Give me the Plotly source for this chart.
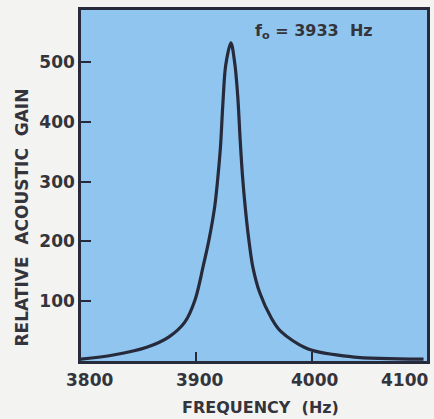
import plotly.graph_objects as go

# values
freq = [3800, 3828, 3857, 3876, 3890, 3899, 3906, 3911, 3916, 3919, 3921, 3923, 3925.5,
        3930, 3933.5, 3936, 3938, 3940, 3942.5, 3945.5, 3949, 3955, 3965, 3973, 3997, 4035, 4097]
gain = [3, 10, 23, 40, 65, 103, 159, 203, 259, 314, 360, 430, 495,
        532, 495, 440, 370, 310, 255, 203, 157, 114, 72, 50, 20, 7, 3]

y_ticks = [100, 200, 300, 400, 500]
y_ticktext = ['100', '200', '300', '400', '500']
x_ticks = [3900, 4000]
x_labels = ['3800', '3900', '4000', '4100']
x_label_px = [90, 201, 317, 433]
x_label_anchor = ['center', 'center', 'center', 'right']

ink = '#262a3a'
txt = '#34343c'
fnt = 'DejaVu Sans'

W, H = 434, 419
L, T, R, B = 81, 10, W - 430, H - 361

fig = go.Figure(go.Scatter(
    x=freq, y=gain, mode='lines',
    line=dict(color=ink, width=3.2, shape='spline', smoothing=0.9),
    hoverinfo='skip'
))

fig.update_layout(
    width=W, height=H,
    margin=dict(l=L, r=R, t=T, b=B),
    paper_bgcolor='#f3f3f1',
    plot_bgcolor='#90c5f0',
    showlegend=False,
    font=dict(family=fnt, color=txt),
)

fig.update_xaxes(
    range=[3800, 4100], tickvals=x_ticks, showticklabels=False,
    ticks='inside', ticklen=9, tickwidth=2, tickcolor=ink,
    showgrid=False, zeroline=False,
    showline=True, linecolor=ink, linewidth=2.5, mirror=True,
)
fig.update_yaxes(
    range=[0, 587], tickvals=y_ticks, ticktext=['<b>%s</b>' % t for t in y_ticktext],
    ticks='inside', ticklen=10, tickwidth=2, tickcolor=ink,
    tickfont=dict(size=17, family=fnt, color=txt),
    showgrid=False, zeroline=False,
    showline=True, linecolor=ink, linewidth=2.5, mirror=True,
)

# pixel -> paper coords
pw = W - L - R
ph = H - T - B
def px(x): return (x - L) / pw
def py(y): return (H - B - y) / ph

ann = []
for lab, xp, anc in zip(x_labels, x_label_px, x_label_anchor):
    ann.append(dict(x=px(xp), y=py(380), xref='paper', yref='paper', xanchor=anc, yanchor='middle',
                    text='<b>%s</b>' % lab, showarrow=False,
                    font=dict(size=17, family=fnt, color=txt)))
ann.append(dict(x=px(262), y=py(407), xref='paper', yref='paper', xanchor='center', yanchor='middle',
                showarrow=False, text='<b>FREQUENCY  (Hz)</b>',
                font=dict(size=16, family=fnt, color=txt)))
ann.append(dict(x=px(21), y=py(218), xref='paper', yref='paper', xanchor='center', yanchor='middle',
                showarrow=False, textangle=-90, text='<b>RELATIVE  ACOUSTIC  GAIN</b>',
                font=dict(size=17, family=fnt, color=txt)))
ann.append(dict(x=px(254), y=py(32), xref='paper', yref='paper', xanchor='left', yanchor='middle',
                showarrow=False, text='<b>f<sub>o</sub> = 3933  Hz</b>',
                font=dict(size=16, family=fnt, color=txt)))
fig.update_layout(annotations=ann)

# drop the default page margin so the figure sits at the window corner
fig.write_html("out.html", config={'displayModeBar': False},
               post_script="document.body.style.margin='0';")
